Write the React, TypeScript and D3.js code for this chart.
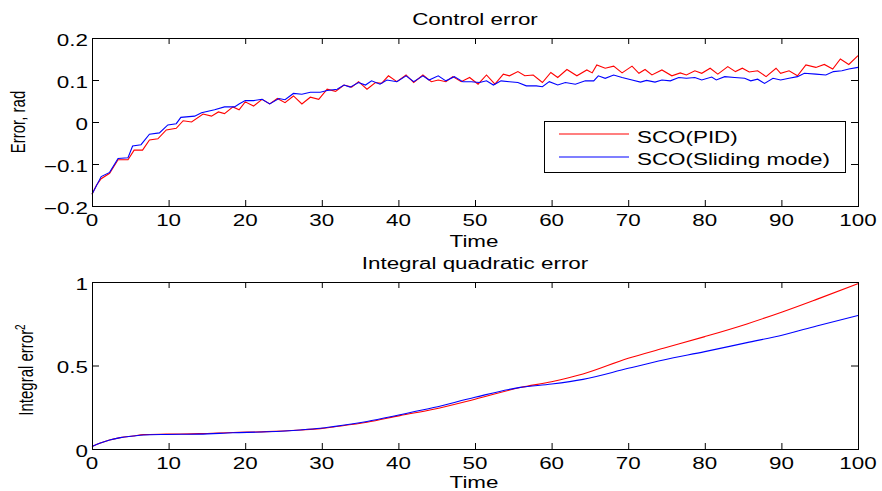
import React from "react";
import * as d3 from "d3";

// time axis ticks (both panels)
const timeTicks = [0, 10, 20, 30, 40, 50, 60, 70, 80, 90, 100];
const errTicks = [-0.2, -0.1, 0, 0.1, 0.2];
const intTicks = [0, 0.5, 1];

// Control error, SCO(PID)
const pidErrT = [0, 0.6, 1.2, 2.3, 3.4, 4.7, 5.5, 6.6, 7.5, 8.6, 9.7, 11, 11.9, 13, 14.5, 15.6, 16.5, 17.3, 18.4, 19.2, 20, 21.1, 22.2, 23.2, 24.2, 25.2, 26.3, 27.4, 28.5, 29.6, 30.7, 31.8, 32.9, 33.9, 34.8, 35.9, 37, 37.8, 38.7, 39.8, 41, 42, 43.2, 44.3, 45.2, 46.2, 47.1, 48.2, 49.3, 50.4, 51.5, 52.6, 53.7, 54.5, 55.6, 56.5, 57.6, 58.8, 59.9, 60.8, 62, 63.3, 64.6, 65.3, 65.9, 67, 68.1, 69.2, 70.5, 71.4, 72.2, 73.1, 74.4, 75.7, 76.8, 77.6, 78.7, 79.6, 80.7, 81.7, 83, 84, 84.9, 85.8, 86.9, 88, 89.3, 89.9, 91, 92.1, 93.2, 94.5, 95.6, 96.7, 97.7, 98.8, 100];
const pidErr = [-0.172, -0.15, -0.135, -0.122, -0.09, -0.09, -0.067, -0.067, -0.043, -0.04, -0.019, -0.015, 0.003, 0.0, 0.019, 0.014, 0.024, 0.02, 0.036, 0.029, 0.048, 0.038, 0.054, 0.043, 0.056, 0.046, 0.062, 0.043, 0.059, 0.054, 0.078, 0.073, 0.088, 0.083, 0.096, 0.078, 0.094, 0.092, 0.11, 0.096, 0.112, 0.094, 0.112, 0.096, 0.1, 0.096, 0.108, 0.096, 0.106, 0.09, 0.112, 0.09, 0.114, 0.11, 0.12, 0.11, 0.112, 0.094, 0.118, 0.106, 0.125, 0.11, 0.124, 0.117, 0.136, 0.128, 0.133, 0.117, 0.133, 0.116, 0.125, 0.112, 0.124, 0.11, 0.117, 0.112, 0.122, 0.116, 0.128, 0.114, 0.132, 0.12, 0.128, 0.119, 0.122, 0.108, 0.128, 0.116, 0.122, 0.11, 0.136, 0.13, 0.137, 0.126, 0.15, 0.137, 0.158];

// Control error, SCO(Sliding mode)
const smcErrT = [0, 1.2, 2.3, 3.4, 4.7, 5.3, 6.4, 7.5, 8.8, 9.9, 11, 11.6, 13.4, 14.3, 16, 17.3, 18.6, 19.2, 20, 21.1, 22.2, 23.2, 24.4, 25.2, 26.3, 27.4, 28.5, 29.8, 30.7, 32, 32.9, 33.7, 34.8, 35.7, 36.5, 37.6, 38.5, 39.8, 41, 42, 43.2, 44, 45.2, 46.2, 47.3, 48.4, 49.5, 50.6, 51.5, 52.4, 53.4, 54.5, 55.6, 56.7, 58, 58.8, 59.7, 60.8, 61.8, 63.1, 64.4, 65.5, 66.1, 67, 68.1, 69.2, 70.5, 71.6, 72.4, 73.5, 74.4, 75.5, 76.6, 77.6, 78.7, 79.6, 80.9, 81.5, 82.6, 83.9, 85.2, 86, 86.9, 87.8, 88.9, 89.9, 91, 92.1, 93, 94.5, 95.8, 96.8, 97.9, 98.8, 100];
const smcErr = [-0.172, -0.13, -0.12, -0.087, -0.085, -0.057, -0.054, -0.029, -0.026, -0.007, -0.004, 0.011, 0.014, 0.022, 0.029, 0.036, 0.036, 0.043, 0.051, 0.051, 0.054, 0.043, 0.056, 0.053, 0.068, 0.066, 0.071, 0.071, 0.075, 0.078, 0.088, 0.083, 0.094, 0.088, 0.098, 0.09, 0.1, 0.096, 0.11, 0.096, 0.11, 0.1, 0.11, 0.098, 0.108, 0.096, 0.096, 0.094, 0.098, 0.088, 0.098, 0.096, 0.094, 0.086, 0.086, 0.084, 0.096, 0.088, 0.094, 0.09, 0.098, 0.098, 0.11, 0.104, 0.112, 0.106, 0.1, 0.095, 0.099, 0.095, 0.1, 0.098, 0.106, 0.104, 0.106, 0.1, 0.107, 0.1, 0.108, 0.106, 0.104, 0.098, 0.102, 0.092, 0.104, 0.1, 0.104, 0.108, 0.116, 0.114, 0.112, 0.12, 0.122, 0.126, 0.13];

// Integral quadratic error
const pidIntT = [0, 1, 2.3, 3.7, 5.4, 6.7, 9.7, 14, 18.4, 22.8, 27.2, 29.8, 31.5, 35.9, 40.2, 44.6, 50, 55.9, 60, 64.1, 70, 74.6, 80, 85.5, 90.2, 94.6, 100];
const pidInt = [0.015, 0.034, 0.054, 0.068, 0.078, 0.086, 0.089, 0.092, 0.099, 0.104, 0.114, 0.122, 0.132, 0.16, 0.2, 0.238, 0.298, 0.368, 0.403, 0.449, 0.543, 0.603, 0.673, 0.749, 0.822, 0.896, 0.99];
const smcIntT = [0, 1, 2.3, 3.7, 5.4, 6.7, 9.7, 14, 18.4, 22.8, 27.2, 29.8, 31.5, 35.9, 40.2, 44.6, 50, 55.9, 60, 64.1, 70, 74.6, 80, 85.5, 90.2, 94.6, 100];
const smcInt = [0.015, 0.034, 0.054, 0.068, 0.078, 0.084, 0.087, 0.089, 0.097, 0.103, 0.114, 0.124, 0.134, 0.165, 0.205, 0.248, 0.31, 0.369, 0.389, 0.417, 0.483, 0.533, 0.583, 0.637, 0.683, 0.737, 0.8];

const FONT = "'Liberation Sans', Arial, Helvetica, sans-serif";
const SX = 1.4; // the figure is stretched horizontally
const LEFT = 92;
const RIGHT = 858;

const x = d3.scaleLinear().domain([0, 100]).range([LEFT, RIGHT]);

function Txt({ x, y, anchor = "middle", size = 16, rotate = 0, children }: any) {
  return (
    <g transform={`translate(${x},${y}) scale(${SX},1)`}>
      <text transform={rotate ? `rotate(${rotate})` : undefined} textAnchor={anchor}
        fontFamily={FONT} fontSize={size} fill="#000">
        {children}
      </text>
    </g>
  );
}

const fmt = (v: number) => (v === 0 ? "0" : String(v).replace("-", "\u2212"));

function Panel({ top, bottom, domain, yTicks, title, yLabel, yLabelX, yLabelY, timeY, series, curve }: any) {
  const y = d3.scaleLinear().domain(domain).range([bottom, top]);
  const line = d3.line<[number, number]>().x(d => x(d[0])).y(d => y(d[1])).curve(curve);
  return (
    <g>
      {series.map((s: any, i: number) => (
        <path key={i} d={line(d3.zip(s.t, s.v) as any) || ""} fill="none" stroke={s.color} strokeWidth={1.1} />
      ))}
      <rect x={LEFT + 0.5} y={top + 0.5} width={RIGHT - LEFT} height={bottom - top} fill="none" stroke="#000" strokeWidth={1} />
      {timeTicks.map(t => (
        <g key={t}>
          <line x1={x(t) + 0.5} x2={x(t) + 0.5} y1={bottom} y2={bottom - 6} stroke="#000" />
          <line x1={x(t) + 0.5} x2={x(t) + 0.5} y1={top} y2={top + 6} stroke="#000" />
          <Txt x={x(t)} y={bottom + 20}>{fmt(t)}</Txt>
        </g>
      ))}
      {yTicks.map((v: number) => (
        <g key={v}>
          <line x1={LEFT} x2={LEFT + 7} y1={y(v) + 0.5} y2={y(v) + 0.5} stroke="#000" />
          <line x1={RIGHT} x2={RIGHT - 7} y1={y(v) + 0.5} y2={y(v) + 0.5} stroke="#000" />
          <Txt x={LEFT - 4} y={y(v) + 7.5} anchor="end">{fmt(v)}</Txt>
        </g>
      ))}
      <Txt x={(LEFT + RIGHT) / 2} y={top - 13}>{title}</Txt>
      <Txt x={(LEFT + RIGHT) / 2 - 1} y={timeY}>Time</Txt>
      <Txt x={yLabelX} y={yLabelY} rotate={-90} size={15}>{yLabel}</Txt>
    </g>
  );
}

export default function App() {
  const topSeries = [
    { t: pidErrT, v: pidErr, color: "#ff0000" },
    { t: smcErrT, v: smcErr, color: "#0000ff" },
  ];
  const botSeries = [
    { t: pidIntT, v: pidInt, color: "#ff0000" },
    { t: smcIntT, v: smcInt, color: "#0000ff" },
  ];
  return (
    <svg width={882} height={491} style={{ position: "absolute", left: 0, top: 0, background: "#fff" }}>
      <rect width={882} height={491} fill="#fff" />
      <Panel top={38} bottom={206} domain={[-0.2, 0.2]} yTicks={errTicks} title="Control error"
        yLabel="Error, rad" yLabelX={25} yLabelY={122} timeY={247} series={topSeries} curve={d3.curveLinear} />
      <Panel top={282} bottom={449} domain={[0, 1]} yTicks={intTicks} title="Integral quadratic error"
        yLabel={<>Integral error<tspan dy={-6} fontSize={10}>2</tspan></>} yLabelX={33} yLabelY={370}
        timeY={488} series={botSeries} curve={d3.curveMonotoneX} />
      {/* legend */}
      <g>
        <rect x={544.5} y={121.5} width={301} height={51} fill="#fff" stroke="#000" strokeWidth={1} />
        <line x1={559} x2={629} y1={134} y2={134} stroke="#ff0000" strokeWidth={1.1} />
        <line x1={559} x2={629} y1={157} y2={157} stroke="#0000ff" strokeWidth={1.1} />
        <Txt x={637} y={143} anchor="start">SCO(PID)</Txt>
        <Txt x={637} y={164.5} anchor="start">SCO(Sliding mode)</Txt>
      </g>
    </svg>
  );
}
